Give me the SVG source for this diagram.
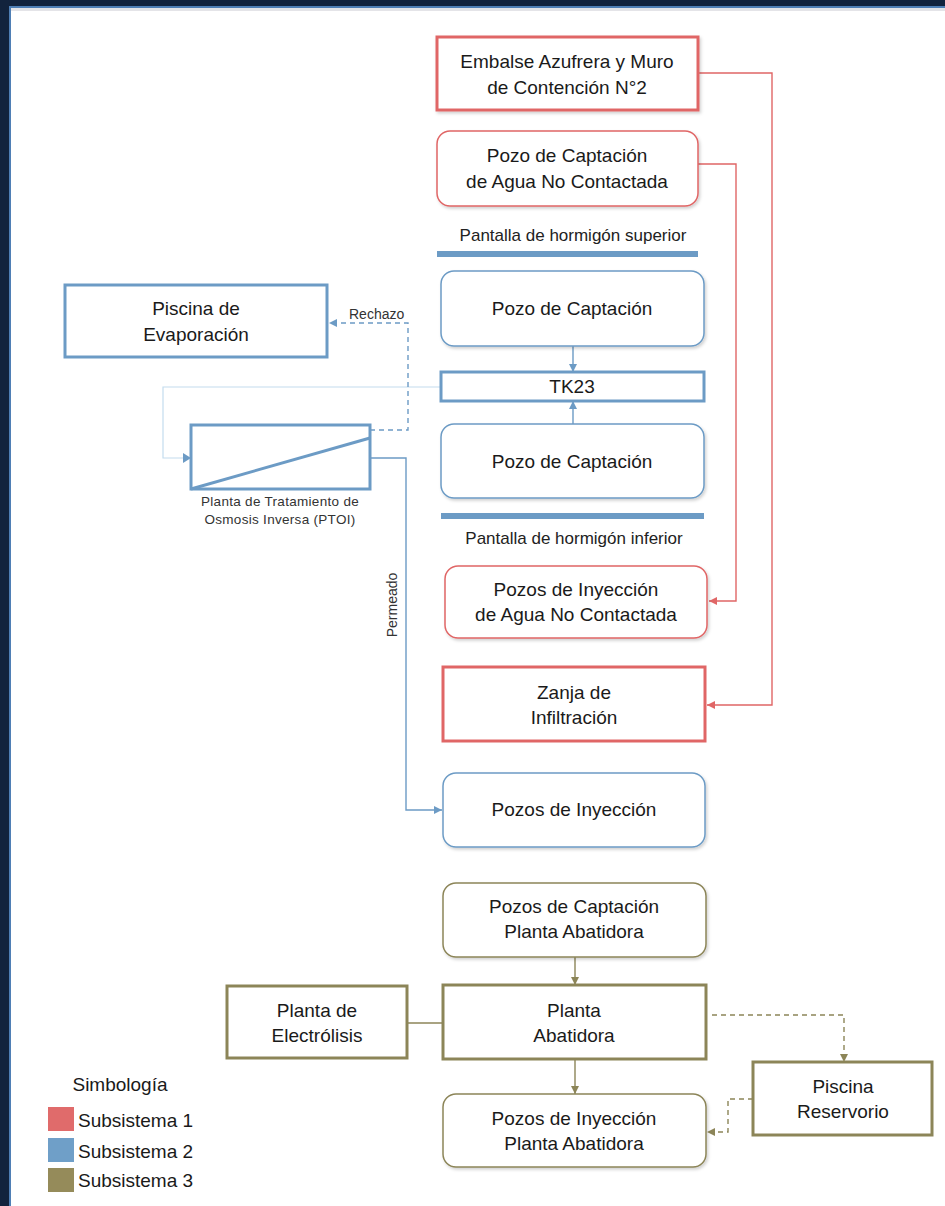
<svg xmlns="http://www.w3.org/2000/svg" width="945" height="1206" viewBox="0 0 945 1206">
<style>
text{font-family:"Liberation Sans",Arial,sans-serif;fill:#1a1a1a;}
.t{font-size:19px;text-anchor:middle;}
.s{font-size:13.5px;text-anchor:middle;fill:#333;letter-spacing:0.3px;}
.lab{font-size:14px;fill:#333;}
.pan{font-size:17px;fill:#222;text-anchor:middle;}
.leg{font-size:19px;}
.r1{fill:#fff;stroke:#e06666;stroke-width:3;}
.r1r{fill:#fff;stroke:#e06666;stroke-width:1.5;}
.b1{fill:#fff;stroke:#6c9bc5;stroke-width:3;}
.b1r{fill:#fff;stroke:#6c9bc5;stroke-width:1.5;}
.o1{fill:#fff;stroke:#8c8558;stroke-width:3;}
.o1r{fill:#fff;stroke:#8c8558;stroke-width:1.5;}
.cr{fill:none;stroke:#e06666;stroke-width:1.4;}
.cb{fill:none;stroke:#6c9bc5;stroke-width:1.4;}
.cl{fill:none;stroke:#c3dcee;stroke-width:1.2;}
.co{fill:none;stroke:#8c8558;stroke-width:1.4;}
.d{stroke-dasharray:5,4;}
</style>
<defs>
<marker id="ar" viewBox="0 0 10 10" refX="10" refY="5" markerWidth="8" markerHeight="8" markerUnits="userSpaceOnUse" orient="auto"><path d="M0,0L10,5L0,10z" fill="#e06666"/></marker>
<marker id="ab" viewBox="0 0 10 10" refX="10" refY="5" markerWidth="8" markerHeight="8" markerUnits="userSpaceOnUse" orient="auto"><path d="M0,0L10,5L0,10z" fill="#6c9bc5"/></marker>
<marker id="ao" viewBox="0 0 10 10" refX="10" refY="5" markerWidth="8" markerHeight="8" markerUnits="userSpaceOnUse" orient="auto"><path d="M0,0L10,5L0,10z" fill="#8c8558"/></marker>
<filter id="sh" x="-5%" y="-10%" width="115%" height="130%"><feDropShadow dx="1.5" dy="2" stdDeviation="1.5" flood-color="#000" flood-opacity="0.18"/></filter>
</defs>
<!-- frame -->
<rect x="0" y="0" width="945" height="1206" fill="#12233d"/>
<rect x="9" y="6" width="936" height="1200" fill="#4f7fb5"/>
<rect x="11" y="8" width="934" height="1198" fill="#ffffff"/>
<rect x="11" y="8" width="934" height="3" fill="#e4e4e8"/>

<g id="connectors">
<path class="cr" d="M698,73H772V705H707" marker-end="url(#ar)"/>
<path class="cr" d="M698,164H736V601H709" marker-end="url(#ar)"/>
<path class="cb" d="M573,346V372" marker-end="url(#ab)"/>
<path class="cb" d="M573,424V401" marker-end="url(#ab)"/>
<path class="cl" d="M441,387H163V458H184"/>
<path d="M183,453L191,458L183,463z" fill="#6c9bc5"/>
<path class="cb d" d="M370,430H408V323H329" marker-end="url(#ab)"/>
<path class="cb" d="M370,458H406V810H442" marker-end="url(#ab)"/>
<path class="co" d="M575,957V985" marker-end="url(#ao)"/>
<path class="co" d="M575,1059V1094" marker-end="url(#ao)"/>
<path class="co" d="M407,1023H443"/>
<path class="co d" d="M712,1015H844V1062" marker-end="url(#ao)"/>
<path class="co d" d="M753,1099H728V1132H707" marker-end="url(#ao)"/>
<text class="lab" x="349" y="319">Rechazo</text>
<text class="lab" transform="translate(397,605) rotate(-90)" text-anchor="middle">Permeado</text>
</g>

<g id="embalse"><rect class="r1" x="437" y="37" width="261" height="73" filter="url(#sh)"/>
<text class="t" x="567" y="68">Embalse Azufrera y Muro</text><text class="t" x="567" y="94">de Contención N°2</text></g>

<g id="pozo-captacion-nc"><rect class="r1r" x="437" y="131" width="261" height="75" rx="13" filter="url(#sh)"/>
<text class="t" x="567" y="162">Pozo de Captación</text><text class="t" x="567" y="188">de Agua No Contactada</text></g>

<g id="pantalla-superior"><text class="pan" x="573" y="241">Pantalla de hormigón superior</text>
<rect x="437" y="251" width="261" height="6" fill="#6c9bc5"/></g>

<g id="pozo-captacion-1"><rect class="b1r" x="441" y="271" width="263" height="75" rx="13" filter="url(#sh)"/>
<text class="t" x="572" y="315">Pozo de Captación</text></g>

<g id="tk23"><rect class="b1" x="441" y="372" width="263" height="29"/>
<text class="t" x="572" y="393">TK23</text></g>

<g id="pozo-captacion-2"><rect class="b1r" x="441" y="424" width="263" height="74" rx="13" filter="url(#sh)"/>
<text class="t" x="572" y="468">Pozo de Captación</text></g>

<g id="pantalla-inferior"><rect x="441" y="513" width="263" height="6" fill="#6c9bc5"/>
<text class="pan" x="574" y="544">Pantalla de hormigón inferior</text></g>

<g id="pozos-inyeccion-nc"><rect class="r1r" x="445" y="566" width="262" height="72" rx="13" filter="url(#sh)"/>
<text class="t" x="576" y="596">Pozos de Inyección</text><text class="t" x="576" y="621">de Agua No Contactada</text></g>

<g id="zanja"><rect class="r1" x="443" y="667" width="262" height="74"/>
<text class="t" x="574" y="699">Zanja de</text><text class="t" x="574" y="724">Infiltración</text></g>

<g id="pozos-inyeccion"><rect class="b1r" x="443" y="773" width="262" height="74" rx="13" filter="url(#sh)"/>
<text class="t" x="574" y="816">Pozos de Inyección</text></g>

<g id="piscina-evaporacion"><rect class="b1" x="65" y="285" width="262" height="72"/>
<text class="t" x="196" y="315">Piscina de</text><text class="t" x="196" y="341">Evaporación</text></g>

<g id="ptoi"><rect class="b1" x="191" y="425" width="179" height="64"/>
<line x1="191" y1="489" x2="370" y2="438" stroke="#6c9bc5" stroke-width="3"/>
<text class="s" x="280" y="506">Planta de Tratamiento de</text><text class="s" x="280" y="524">Osmosis Inversa (PTOI)</text></g>

<g id="pozos-captacion-pa"><rect class="o1r" x="443" y="883" width="263" height="74" rx="13" filter="url(#sh)"/>
<text class="t" x="574" y="913">Pozos de Captación</text><text class="t" x="574" y="938">Planta Abatidora</text></g>

<g id="planta-abatidora"><rect class="o1" x="443" y="985" width="263" height="74"/>
<text class="t" x="574" y="1017">Planta</text><text class="t" x="574" y="1042">Abatidora</text></g>

<g id="pozos-inyeccion-pa"><rect class="o1r" x="443" y="1094" width="263" height="73" rx="13" filter="url(#sh)"/>
<text class="t" x="574" y="1125">Pozos de Inyección</text><text class="t" x="574" y="1150">Planta Abatidora</text></g>

<g id="planta-electrolisis"><rect class="o1" x="227" y="986" width="180" height="72"/>
<text class="t" x="317" y="1017">Planta de</text><text class="t" x="317" y="1042">Electrólisis</text></g>

<g id="piscina-reservorio"><rect class="o1" x="753" y="1062" width="179" height="73"/>
<text class="t" x="843" y="1093">Piscina</text><text class="t" x="843" y="1118">Reservorio</text></g>

<g id="legend">
<text class="leg" x="120" y="1091" text-anchor="middle">Simbología</text>
<rect x="48" y="1107" width="26" height="24" fill="#e06b6b"/>
<rect x="48" y="1138" width="26" height="24" fill="#6f9fc8"/>
<rect x="48" y="1168" width="26" height="24" fill="#958b5a"/>
<text class="leg" x="78" y="1127">Subsistema 1</text>
<text class="leg" x="78" y="1158">Subsistema 2</text>
<text class="leg" x="78" y="1187">Subsistema 3</text>
</g>
</svg>
